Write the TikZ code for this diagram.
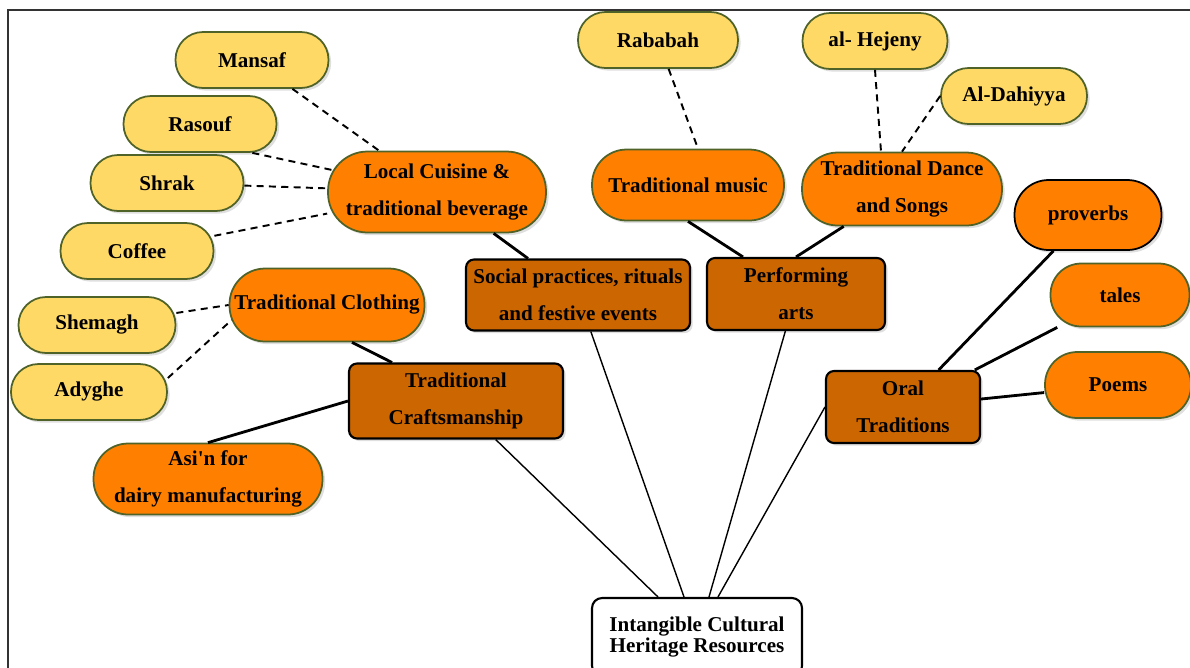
\documentclass[tikz,border=0pt]{standalone}
\usepackage{fontspec}
\setmainfont{Liberation Serif}
\usetikzlibrary{shadows}
\definecolor{leafyellow}{HTML}{FFD966}
\definecolor{topicorange}{HTML}{FF8000}
\definecolor{domainbrown}{HTML}{CC6600}
\definecolor{leafgreen}{HTML}{4F6228}

\begin{document}
\begin{tikzpicture}[x=0.02cm,y=-0.02cm,thick,
    every node/.style={font=\bfseries\fontsize{12}{21}\selectfont,align=center,inner sep=1pt},
    soft shadow/.style={drop shadow={opacity=0.25,shadow xshift=1.5pt,shadow yshift=-1.5pt}},
    leaf node/.style={rectangle,draw=leafgreen,fill=leafyellow,line width=1pt,minimum height=1.12cm,rounded corners=0.55cm,soft shadow},
    topic node/.style={rectangle,draw=leafgreen,fill=topicorange,line width=1pt,minimum height=#1,rounded corners=#1/2.05,soft shadow},
    domain node/.style={rectangle,draw=black,fill=domainbrown,line width=1.2pt,rounded corners=0.16cm,soft shadow},
    root node/.style={rectangle,draw=black,fill=white,line width=1.2pt,rounded corners=0.2cm,font=\bfseries\fontsize{12}{11.5}\selectfont},
    leaf edge/.style={line width=1.1pt,dash pattern=on 4pt off 3pt},
    topic edge/.style={line width=1.6pt},
    root edge/.style={line width=0.8pt}]
    \useasboundingbox (0,0) rectangle (1190,667);
    \clip (0,0) rectangle (1190,667);
    \draw[line width=0.8pt,black!80] (8,10) rectangle (1240,720);

    % root and the four domains
    \node[root node,minimum width=4.2cm,minimum height=1.56cm] (1) at (697,637) {Intangible Cultural\\Heritage Resources};
    \node[domain node,minimum width=4.28cm,minimum height=1.5cm] (2) at (456,401) {Traditional\\Craftsmanship};
    \node[domain node,minimum width=4.48cm,minimum height=1.42cm] (3) at (578,295) {Social practices, rituals\\and festive events};
    \node[domain node,minimum width=3.56cm,minimum height=1.44cm] (4) at (796,294) {Performing\\arts};
    \node[domain node,minimum width=3.08cm,minimum height=1.44cm] (5) at (903,407) {Oral\\Traditions};

    % topics
    \node[topic node=1.62cm,minimum width=4.36cm] (6) at (437,192) {Local Cuisine \&\\traditional beverage};
    \node[topic node=1.46cm,minimum width=3.9cm] (7) at (327,305) {Traditional Clothing};
    \node[topic node=1.42cm,minimum width=4.58cm] (8) at (208,479) {Asi\textquotesingle n for\\dairy manufacturing};
    \node[topic node=1.42cm,minimum width=3.84cm] (9) at (688,185) {Traditional music};
    \node[topic node=1.46cm,minimum width=4cm] (10) at (902,189) {Traditional Dance\\and Songs};
    \node[topic node=1.4cm,minimum width=2.94cm,draw=black] (11) at (1088,215) {proverbs};
    \node[topic node=1.26cm,minimum width=2.78cm] (12) at (1120,295) {tales};
    \node[topic node=1.32cm,minimum width=2.92cm] (13) at (1118,385) {Poems};

    % leaves
    \node[leaf node,minimum width=3.06cm] (14) at (252,60) {Mansaf};
    \node[leaf node,minimum width=3.06cm] (15) at (200,124) {Rasouf};
    \node[leaf node,minimum width=3.06cm] (16) at (167,183) {Shrak};
    \node[leaf node,minimum width=3.06cm] (17) at (137,251) {Coffee};
    \node[leaf node,minimum width=3.14cm] (18) at (97,325) {Shemagh};
    \node[leaf node,minimum width=3.12cm] (19) at (89,392) {Adyghe};
    \node[leaf node,minimum width=3.2cm] (20) at (658,40) {Rababah};
    \node[leaf node,minimum width=2.9cm] (21) at (875,41) {al- Hejeny};
    \node[leaf node,minimum width=2.92cm] (22) at (1014,96) {Al-Dahiyya};

    \path[leaf edge]
        (14) edge (6)
        ([xshift=-0.5cm]15.south east) edge ([xshift=0.1cm,yshift=0.44cm]6.west)
        (16) edge (6)
        (17) edge (6)
        (18) edge (7.west)
        ([yshift=0.28cm]19.east) edge ([xshift=0.06cm,yshift=-0.3cm]7.west)
        (20) edge ([xshift=0.2cm]9.north)
        (21.south) edge ([xshift=-0.42cm]10.north)
        (22.west) edge (10.north)
    ;
    \path[topic edge]
        (6) edge (3)
        ([xshift=0.5cm]7.south) edge ([xshift=-1.28cm]2.north)
        (2.west) edge (8.north)
        (9.south) edge ([xshift=-1.06cm]4.north)
        (10) edge (4.north)
        (11) edge (5)
        (12) edge (5)
        (13) edge (5)
    ;
    \path[root edge]
        (2) edge ([xshift=-0.78cm]1.north)
        (3) edge ([xshift=-0.26cm]1.north)
        (4) edge ([xshift=0.24cm]1.north)
        (5.west) edge ([xshift=0.42cm]1.north)
    ;
\end{tikzpicture}
\end{document}
